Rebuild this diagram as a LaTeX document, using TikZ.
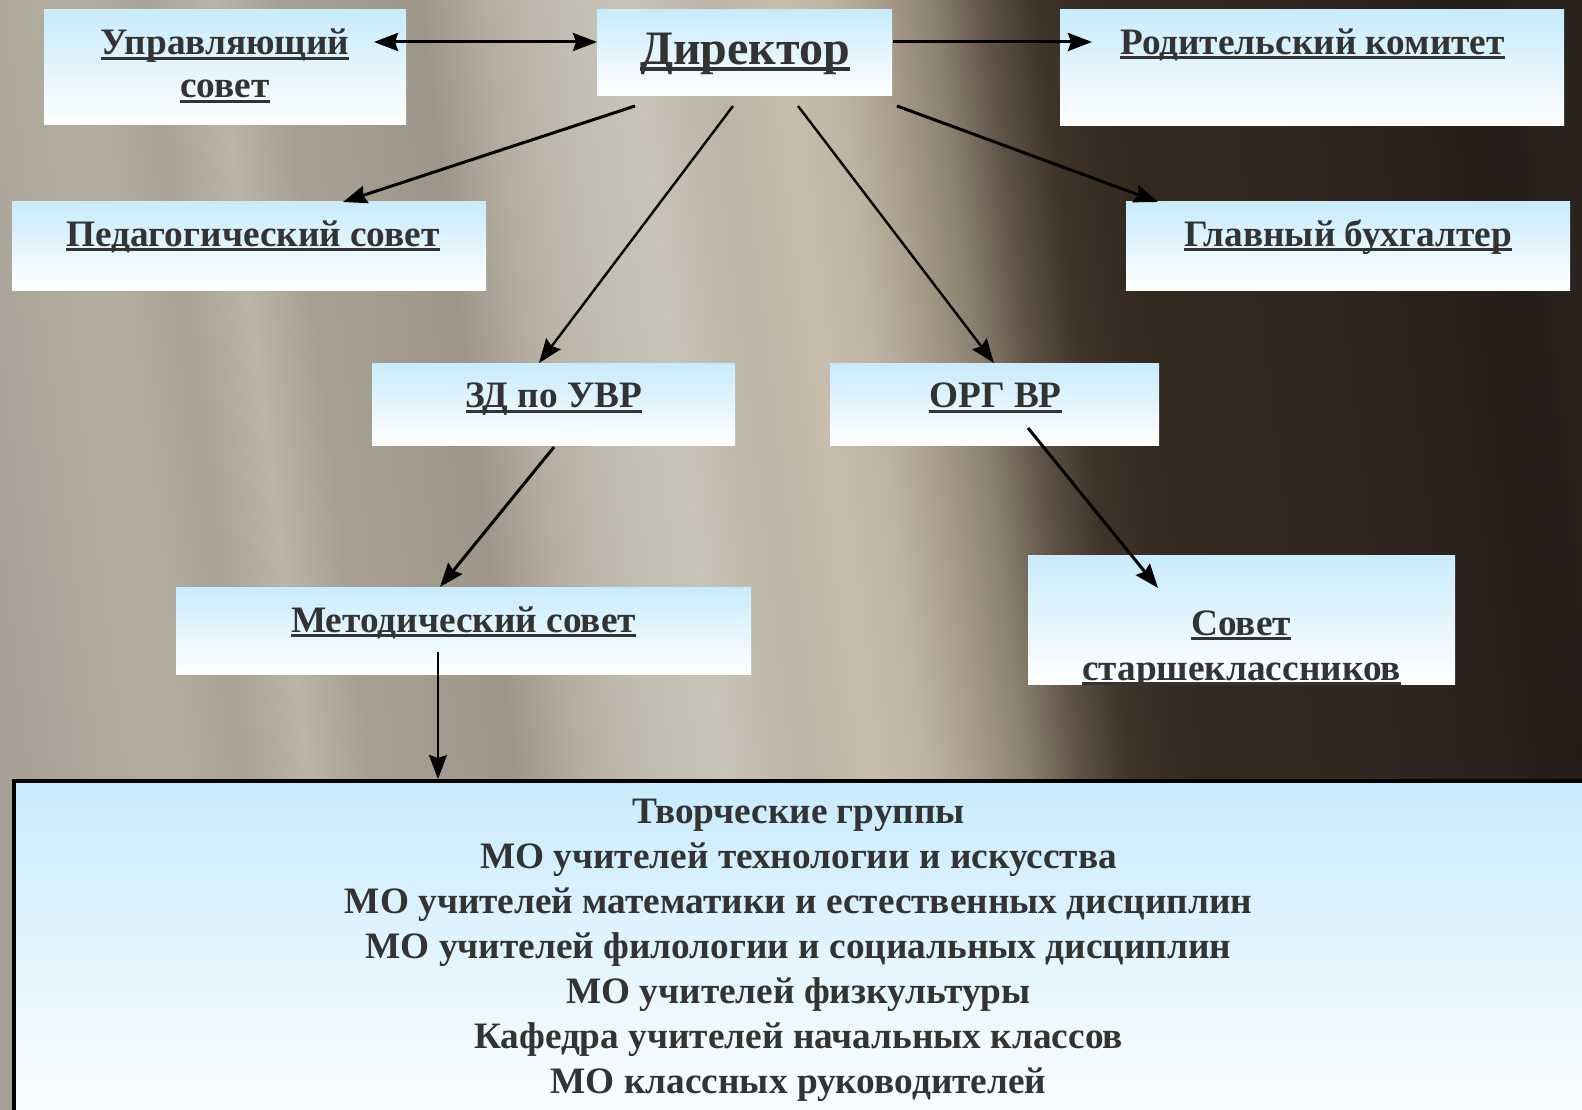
\documentclass[tikz,border=0pt]{standalone}
\usepackage{fontspec}
\setmainfont{Liberation Serif}
\usetikzlibrary{calc,arrows.meta}
\definecolor{txt}{HTML}{333333}
\definecolor{boxtop}{HTML}{C8EBFD}
\definecolor{g01}{HTML}{A8A196}
\definecolor{g02}{HTML}{AFA99C}
\definecolor{g03}{HTML}{B4AEA0}
\definecolor{g04}{HTML}{A9A295}
\definecolor{g05}{HTML}{BAB5A6}
\definecolor{g06}{HTML}{A69F92}
\definecolor{g07}{HTML}{A39B8E}
\definecolor{g08}{HTML}{9E9689}
\definecolor{g09}{HTML}{B5AEA0}
\definecolor{g10}{HTML}{C2BDB1}
\definecolor{g11}{HTML}{C8C3B7}
\definecolor{g12}{HTML}{BCB4A5}
\definecolor{g13}{HTML}{C9BEAD}
\definecolor{g14}{HTML}{BEB2A0}
\definecolor{g15}{HTML}{A89B89}
\definecolor{g16}{HTML}{8B7F6F}
\definecolor{g17}{HTML}{605346}
\definecolor{g18}{HTML}{403429}
\definecolor{g19}{HTML}{34291F}
\definecolor{g20}{HTML}{31271F}
\definecolor{g21}{HTML}{2C221C}
\definecolor{g22}{HTML}{231B17}
\definecolor{g23}{HTML}{2A231E}
\pgfdeclarehorizontalshading{bgshade}{100bp}{color(0bp)=(g01); color(25bp)=(g01); color(27.53bp)=(g02); color(29.74bp)=(g03); color(31.95bp)=(g04); color(34.01bp)=(g05); color(36.06bp)=(g06); color(38.27bp)=(g07); color(40.49bp)=(g08); color(42.54bp)=(g09); color(44.75bp)=(g10); color(47.12bp)=(g11); color(49.65bp)=(g12); color(51.71bp)=(g13); color(53.44bp)=(g14); color(55.02bp)=(g15); color(56.61bp)=(g16); color(58.19bp)=(g17); color(59.77bp)=(g18); color(61.98bp)=(g19); color(66.72bp)=(g20); color(71.46bp)=(g21); color(73.99bp)=(g22); color(75bp)=(g23); color(100bp)=(g23)}
\newcommand\ulin[1]{\setbox0=\hbox{#1}\rlap{\rule[-5pt]{\wd0}{3pt}}\box0}
\newcommand\ulbig[1]{\setbox0=\hbox{#1}\rlap{\rule[-6.5pt]{\wd0}{4pt}}\box0}
\tikzset{
  box/.style={rectangle, inner sep=0pt, outer sep=0pt, top color=boxtop, bottom color=white, anchor=north west},
  lbl/.style={anchor=base, text=txt, inner sep=0pt, font=\bfseries\fontsize{37.3}{45}\selectfont},
  biglbl/.style={lbl, font=\bfseries\fontsize{48}{56}\selectfont},
  lstlbl/.style={lbl, font=\bfseries\fontsize{37.3}{45}\selectfont},
  arr/.style={-{Stealth[length=24pt,width=18pt,inset=3pt]}, line width=3pt, black},
  thinarr/.style={arr, line width=2.4pt},
}
\begin{document}
\begin{tikzpicture}[x=1pt,y=-1pt]
\useasboundingbox (0,0) rectangle (1582,1110);
\clip (0,0) rectangle (1582,1110);
% background
\shade[shading=bgshade, shading angle=7] (0,-236) rectangle (1582,1346);
% boxes
\node[box, minimum width=362pt, minimum height=115pt] (upr) at (44,10) {};
\node[box, minimum width=295pt, minimum height=86pt] (dir) at (597,10) {};
\node[box, minimum width=504pt, minimum height=116pt] (rod) at (1060,10) {};
\node[box, minimum width=474pt, minimum height=88pt] (ped) at (12,202) {};
\node[box, minimum width=444pt, minimum height=88pt] (glav) at (1126,202) {};
\node[box, minimum width=363pt, minimum height=82pt] (zd) at (372,363) {};
\node[box, minimum width=329pt, minimum height=82pt] (org) at (830,363) {};
\node[box, minimum width=575pt, minimum height=87pt] (met) at (176,587) {};
\node[box, minimum width=427pt, minimum height=129pt] (sov) at (1028,555) {};
\node[box, draw=black, line width=3.5pt, minimum width=1600pt, minimum height=360pt] (bot) at (13.75,780.75) {};
% labels
\node[lbl] (t-upr1) at (225,55) {\ulin{Управляющий}};
\node[lbl] (t-upr2) at (225,98) {\ulin{совет}};
\node[biglbl] (t-dir) at (745,65) {\ulbig{Директор}};
\node[lbl] (t-rod) at (1312.5,54.5) {\ulin{Родительский комитет}};
\node[lbl] (t-ped) at (253,246) {\ulin{Педагогический совет}};
\node[lbl] (t-glav) at (1348,246) {\ulin{Главный бухгалтер}};
\node[lbl] (t-zd) at (554,407.5) {\ulin{ЗД по УВР}};
\node[lbl] (t-org) at (995.5,407.5) {\ulin{ОРГ ВР}};
\node[lbl] (t-met) at (463.5,632) {\ulin{Методический совет}};
\node[lbl] (t-sov1) at (1241,635) {\ulin{Совет}};
\node[lbl] (t-sov2) at (1241.5,680) {\ulin{старшеклассников}};
\node[lstlbl] (b1) at (798.5,823) {Творческие группы};
\node[lstlbl] (b2) at (798.5,868) {МО учителей технологии и искусства};
\node[lstlbl] (b3) at (798.5,913) {МО учителей математики и естественных дисциплин};
\node[lstlbl] (b4) at (798.5,958) {МО учителей филологии и социальных дисциплин};
\node[lstlbl] (b5) at (798.5,1003) {МО учителей физкультуры};
\node[lstlbl] (b6) at (798.5,1048) {Кафедра учителей начальных классов};
\node[lstlbl] (b7) at (798.5,1093) {МО классных руководителей};
% connectors
\draw[arr, {Stealth[length=24pt,width=18pt,inset=3pt]}-{Stealth[length=24pt,width=18pt,inset=3pt]}] ($(upr.north east)+(-32,32)$) -- ($(dir.north west)+(0,32)$);
\draw[arr] ($(dir.north east)+(1,32)$) -- ($(rod.north west)+(32,32)$);
\draw[arr] ($(dir.south west)+(38,10)$) -- ($(ped.north west)+(331,0)$);
\draw[thinarr] ($(dir.south west)+(136,10)$) -- ($(zd.north west)+(167,0)$);
\draw[thinarr] ($(dir.south west)+(201,10)$) -- ($(org.north west)+(164,0)$);
\draw[arr] ($(dir.south east)+(5,10)$) -- ($(glav.north west)+(32,0)$);
\draw[arr] ($(zd.south west)+(182,2)$) -- ($(met.north west)+(264,0)$);
\draw[arr] ($(org.south west)+(198,-17)$) -- ($(sov.north west)+(130,33)$);
\draw[thinarr] ($(met.south west)+(262,-22)$) -- ($(bot.north west)+(424.25,-1.75)$);
\end{tikzpicture}
\end{document}
